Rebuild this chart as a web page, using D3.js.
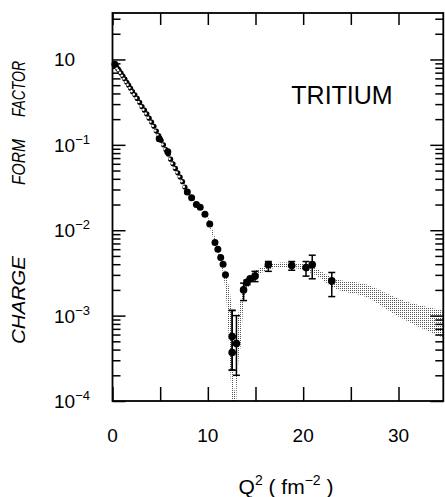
<!DOCTYPE html>
<html>
<head>
<meta charset="utf-8">
<script src="https://cdn.jsdelivr.net/npm/d3@7"></script>
<style>
body { margin: 0; background: #fff; }
svg { display: block; }
text { font-family: "Liberation Sans", Arial, sans-serif; fill: #000; }
</style>
</head>
<body>
<svg id="chart" width="445" height="497"></svg>
<script>
// low Q^2 data, small open markers
var qLow = [0.4, 0.55, 0.7, 0.9, 1.1, 1.3, 1.5, 1.7, 1.9, 2.1, 2.35, 2.6, 2.85, 3.1, 3.35, 3.6, 3.85, 4.1,
            4.35, 4.6, 4.85, 5.1, 5.35, 5.6, 5.85, 6.1, 6.35, 6.6, 6.85, 7.1, 7.35, 7.6];
var fLow = [0.83, 0.78, 0.74, 0.69, 0.64, 0.59, 0.54, 0.50, 0.46, 0.42, 0.385, 0.35, 0.315, 0.28, 0.255, 0.23, 0.205, 0.185,
            0.165, 0.145, 0.128, 0.113, 0.100, 0.088, 0.078, 0.068, 0.060, 0.053, 0.047, 0.042, 0.037, 0.032];

// filled points without visible error bars
var qFill = [0.25, 4.9, 5.8, 7.85, 8.3, 8.8, 9.2, 9.7, 10.2, 10.75, 11.05, 11.35, 11.6, 11.85];
var fFill = [0.88, 0.118, 0.083, 0.028, 0.024, 0.020, 0.0186, 0.0154, 0.0118, 0.0072, 0.0060, 0.0048, 0.0040, 0.0030];

// filled points with error bars
var qErr  = [12.55, 12.55, 13.0, 13.75, 14.1, 14.45, 14.95, 16.35, 18.8, 20.3, 20.95, 23.0];
var fErr  = [5.7e-4, 3.7e-4, 4.7e-4, 2.0e-3, 2.45e-3, 2.7e-3, 2.9e-3, 3.95e-3, 3.85e-3, 3.65e-3, 3.95e-3, 2.55e-3];
var errLo = [2.3e-4, 2.3e-4, 2.0e-4, 1.5e-3, 2.3e-3, 2.6e-3, 2.5e-3, 3.3e-3, 3.4e-3, 2.9e-3, 2.7e-3, 1.67e-3];
var errHi = [1.15e-3, 1.15e-3, 1.0e-3, 2.4e-3, 2.6e-3, 2.8e-3, 3.3e-3, 4.3e-3, 4.3e-3, 4.3e-3, 5.1e-3, 3.2e-3];

// theory band
var bandQ  = [10.0, 11.0, 11.8, 12.0, 12.2, 12.4, 12.5, 12.6, 12.7, 12.8, 12.9, 13.0, 13.2, 13.45, 13.8, 14.2, 14.6,
              15.5, 16.5, 18.0, 20.0, 21.5, 23.0, 26.7, 30.2, 34.7];
var bandLo = [0.0125, 0.0055, 0.0022, 0.00128, 5.2e-4, 1.8e-4, 1e-4, 1e-5, 1e-5, 1e-5, 1e-5, 1e-4, 2.8e-4, 4.5e-4, 1.54e-3, 2.1e-3, 2.5e-3,
              3.1e-3, 3.5e-3, 3.7e-3, 3.4e-3, 2.9e-3, 2.2e-3, 1.63e-3, 9.5e-4, 5.5e-4];
var bandHi = [0.0145, 0.0068, 0.0032, 0.0028, 0.0022, 0.0016, 0.00128, 5.2e-4, 2e-4, 1.3e-4, 2e-4, 5.2e-4, 1.0e-3, 1.54e-3, 2.1e-3, 2.6e-3, 3.1e-3,
              3.6e-3, 4.0e-3, 4.2e-3, 4.0e-3, 3.5e-3, 2.8e-3, 2.3e-3, 1.54e-3, 1.15e-3];

var xTicks = [0, 5, 10, 15, 20, 25, 30];
var xLabels = [0, 10, 20, 30];
var yExps = [0, -1, -2, -3, -4];

var svg = d3.select("#chart");

var x = d3.scaleLinear().domain([0, 34.7]).range([112.5, 443.3]);
var y = d3.scaleLog().domain([1e-4, 3.5]).range([401, 13]);

var pLeft = x.range()[0], pRight = x.range()[1], pTop = y.range()[1], pBottom = y.range()[0];

// stipple pattern for the band
var defs = svg.append("defs");
var pat = defs.append("pattern").attr("id", "dots")
    .attr("patternUnits", "userSpaceOnUse").attr("width", 2).attr("height", 2);
pat.append("rect").attr("width", 2).attr("height", 2).attr("fill", "#fff");
pat.append("rect").attr("x", 0).attr("y", 0).attr("width", 1).attr("height", 1).attr("fill", "#555");
defs.append("clipPath").attr("id", "plotclip")
    .append("rect").attr("x", pLeft).attr("y", pTop).attr("width", pRight - pLeft).attr("height", pBottom - pTop);

var band = bandQ.map(function (q, i) { return { q: q, lo: bandLo[i], hi: bandHi[i] }; });
svg.append("path")
    .datum(band)
    .attr("clip-path", "url(#plotclip)")
    .attr("fill", "url(#dots)")
    .attr("d", d3.area()
        .x(function (d) { return x(d.q); })
        .y0(function (d) { return y(d.lo); })
        .y1(function (d) { return y(d.hi); })
        .curve(d3.curveMonotoneX));

// axes: ticks only, frame drawn separately
function styleAxis(g) {
    g.select(".domain").remove();
    g.selectAll("line").attr("stroke", "#000").attr("stroke-width", 1.5);
    g.selectAll("text").remove();
}
svg.append("g").attr("transform", "translate(0," + pBottom + ")")
    .call(d3.axisBottom(x).tickValues(xTicks).tickSize(-14).tickFormat("")).call(styleAxis);
svg.append("g").attr("transform", "translate(0," + pTop + ")")
    .call(d3.axisTop(x).tickValues(xTicks).tickSize(-12).tickFormat("")).call(styleAxis);

var majors = yExps.map(function (e) { return Math.pow(10, e); });
var minors = [];
for (var e = -4; e <= 0; e++) {
    for (var m = 2; m <= 9; m++) {
        var v = m * Math.pow(10, e);
        if (v <= 3.5) minors.push(v);
    }
}
svg.append("g").attr("transform", "translate(" + pLeft + ",0)")
    .call(d3.axisLeft(y).tickValues(majors).tickSize(-13).tickFormat("")).call(styleAxis);
svg.append("g").attr("transform", "translate(" + pLeft + ",0)")
    .call(d3.axisLeft(y).tickValues(minors).tickSize(-8).tickFormat("")).call(styleAxis);
svg.append("g").attr("transform", "translate(" + pRight + ",0)")
    .call(d3.axisRight(y).tickValues(majors).tickSize(-13).tickFormat("")).call(styleAxis);
svg.append("g").attr("transform", "translate(" + pRight + ",0)")
    .call(d3.axisRight(y).tickValues(minors).tickSize(-8).tickFormat("")).call(styleAxis);

svg.append("rect")
    .attr("x", pLeft).attr("y", pTop)
    .attr("width", pRight - pLeft).attr("height", pBottom - pTop)
    .attr("fill", "none").attr("stroke", "#000").attr("stroke-width", 1.8);

// tick labels
svg.selectAll(".xlab")
    .data(xLabels)
    .enter()
    .append("text")
    .attr("x", function (d) { return x(d); })
    .attr("y", 442)
    .attr("text-anchor", "middle")
    .style("font-size", "19px")
    .text(function (d) { return d; });

var ylab = svg.selectAll(".ylab")
    .data(yExps)
    .enter()
    .append("text")
    .attr("x", 54)
    .attr("y", function (d) { return y(Math.pow(10, d)) + 7; })
    .style("font-size", "19px");
ylab.append("tspan").text("10");
ylab.filter(function (d) { return d !== 0; })
    .append("tspan")
    .attr("dy", -8)
    .style("font-size", "13px")
    .text(function (d) { return "\u2212" + (-d); });

// data: error bars
var errData = qErr.map(function (q, i) { return { q: q, f: fErr[i], lo: errLo[i], hi: errHi[i] }; });
var eb = svg.append("g").attr("stroke", "#000").attr("stroke-width", 1.5);
eb.selectAll(".ebar").data(errData).enter().append("line")
    .attr("x1", function (d) { return x(d.q); }).attr("x2", function (d) { return x(d.q); })
    .attr("y1", function (d) { return y(d.lo); }).attr("y2", function (d) { return y(d.hi); });
eb.selectAll(".ecapT").data(errData).enter().append("line")
    .attr("x1", function (d) { return x(d.q) - 3.5; }).attr("x2", function (d) { return x(d.q) + 3.5; })
    .attr("y1", function (d) { return y(d.hi); }).attr("y2", function (d) { return y(d.hi); });
eb.selectAll(".ecapB").data(errData).enter().append("line")
    .attr("x1", function (d) { return x(d.q) - 3.5; }).attr("x2", function (d) { return x(d.q) + 3.5; })
    .attr("y1", function (d) { return y(d.lo); }).attr("y2", function (d) { return y(d.lo); });

svg.selectAll(".pErr").data(errData).enter().append("circle")
    .attr("cx", function (d) { return x(d.q); })
    .attr("cy", function (d) { return y(d.f); })
    .attr("r", 3.8)
    .attr("fill", "#000");

// data: low Q markers, drawn as dark crescents like the scanned symbols
var low = svg.append("g");
low.selectAll(".pLow").data(qLow).enter().append("circle")
    .attr("cx", function (d) { return x(d); })
    .attr("cy", function (d, i) { return y(fLow[i]); })
    .attr("r", 2.6)
    .attr("fill", "#000");
low.selectAll(".pLowIn").data(qLow).enter().append("circle")
    .attr("cx", function (d) { return x(d) - 1.1; })
    .attr("cy", function (d, i) { return y(fLow[i]) - 0.4; })
    .attr("r", 1.2)
    .attr("fill", "#fff");

svg.selectAll(".pFill").data(qFill).enter().append("circle")
    .attr("cx", function (d) { return x(d); })
    .attr("cy", function (d, i) { return y(fFill[i]); })
    .attr("r", 3.5)
    .attr("fill", "#000");

// labels
svg.append("text")
    .attr("x", 342).attr("y", 104)
    .attr("text-anchor", "middle")
    .style("font-size", "25px")
    .text("TRITIUM");

var xt = svg.append("text")
    .attr("x", 286).attr("y", 494)
    .attr("text-anchor", "middle")
    .style("font-size", "21px");
xt.append("tspan").text("Q");
xt.append("tspan").attr("dy", -9).style("font-size", "14px").text("2");
xt.append("tspan").attr("dy", 9).text(" ( fm");
xt.append("tspan").attr("dy", -9).style("font-size", "14px").text("\u22122");
xt.append("tspan").attr("dy", 9).text(" )");

var yWords = ["CHARGE", "FORM", "FACTOR"];
var yWordCenter = [300, 162, 89];
var yWordLen = [88, 46, 56];
svg.selectAll(".ytitle").data(yWords).enter().append("text")
    .attr("transform", function (d, i) { return "translate(25," + yWordCenter[i] + ") rotate(-90)"; })
    .attr("text-anchor", "middle")
    .attr("textLength", function (d, i) { return yWordLen[i]; })
    .attr("lengthAdjust", "spacingAndGlyphs")
    .style("font-size", "18px")
    .style("font-style", "italic")
    .text(function (d) { return d; });
</script>
</body>
</html>
